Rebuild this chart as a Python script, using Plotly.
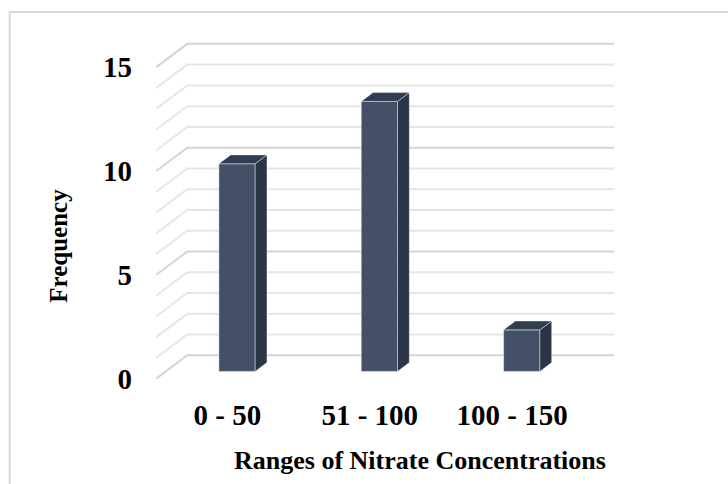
import plotly.graph_objects as go

# Frequency of samples per nitrate concentration range
categories = ["0 - 50", "51 - 100", "100 - 150"]
frequency = [10, 13, 2]
y_ticks = [0, 5, 10, 15]
y_max = 15

# Pseudo-3D geometry (in axis units): full floor depth shifts right/up
DEPTH_DX = 0.218
DEPTH_DY = 1.122
D_FRONT, D_BACK = 0.31, 0.69     # bar depth span as fraction of floor depth
BAR_W = 0.255

FRONT = "#435068"
SIDE = "#2B3546"
TOP = "#313D50"
GRID_MAJOR = "#D4D4D4"
GRID_MINOR = "#E6E6E6"
SERIF = "Liberation Serif"

W, H = 728, 484
X_RANGE = [-0.6, 2.8]
Y_RANGE = [-0.5, 16.5]
PX_X, PX_Y = 142.3, 20.76
ORIGIN_X, ORIGIN_Y = 156.0, 379.0   # pixel of (x=-0.5, y=0) on the front plane

left_px = ORIGIN_X + (X_RANGE[0] + 0.5) * PX_X
right_px = ORIGIN_X + (X_RANGE[1] + 0.5) * PX_X
top_px = ORIGIN_Y - Y_RANGE[1] * PX_Y
bottom_px = ORIGIN_Y - Y_RANGE[0] * PX_Y


def paper_x(px):
    return (px - left_px) / (right_px - left_px)


def paper_y(py):
    return (bottom_px - py) / (bottom_px - top_px)


fig = go.Figure()
shapes = []

# Left wall diagonals and back wall gridlines (drawn beneath all traces)
n_cat = len(categories)
x_left = -0.5
x_right = n_cat - 0.5
for v in range(0, y_max + 1):
    color = GRID_MAJOR if v % 5 == 0 else GRID_MINOR
    path = (f"M {x_left},{v} L {x_left + DEPTH_DX},{v + DEPTH_DY} "
            f"L {x_right + DEPTH_DX},{v + DEPTH_DY}")
    shapes.append(dict(type="path", xref="x", yref="y", path=path,
                       line=dict(color=color, width=2), layer="below"))

# Column faces
x_shift = D_FRONT * DEPTH_DX
base = D_FRONT * DEPTH_DY
dx = (D_BACK - D_FRONT) * DEPTH_DX
dy = (D_BACK - D_FRONT) * DEPTH_DY
edge = dict(color="rgba(255,255,255,0.4)", width=1)

for i, v in enumerate(frequency):
    xl = i + x_shift - BAR_W / 2
    xr = i + x_shift + BAR_W / 2
    y0 = base
    y1 = base + v
    # side face
    fig.add_trace(go.Scatter(
        x=[xr, xr, xr + dx, xr + dx, xr],
        y=[y0, y1, y1 + dy, y0 + dy, y0],
        mode="lines", fill="toself", fillcolor=SIDE, line=edge,
        hoverinfo="skip", showlegend=False,
    ))
    # top face
    fig.add_trace(go.Scatter(
        x=[xl, xr, xr + dx, xl + dx, xl],
        y=[y1, y1, y1 + dy, y1 + dy, y1],
        mode="lines", fill="toself", fillcolor=TOP, line=edge,
        hoverinfo="skip", showlegend=False,
    ))

# Front faces
fig.add_trace(go.Bar(
    x=[i + x_shift for i in range(n_cat)],
    y=frequency,
    base=[base] * n_cat,
    width=BAR_W,
    marker=dict(color=FRONT, line=dict(color="rgba(255,255,255,0.45)", width=1)),
    showlegend=False,
))

# Outer chart border
shapes.append(dict(type="rect", xref="paper", yref="paper",
                   x0=paper_x(9.5), y0=paper_y(H + 20), x1=paper_x(W + 20), y1=paper_y(12.5),
                   line=dict(color="#D9D9D9", width=2), fillcolor="rgba(0,0,0,0)",
                   layer="below"))

fig.update_layout(
    width=W, height=H,
    margin=dict(l=left_px, r=W - right_px, t=top_px, b=H - bottom_px, autoexpand=False),
    paper_bgcolor="white", plot_bgcolor="white",
    xaxis=dict(
        range=X_RANGE, showgrid=False, zeroline=False, showline=False,
        tickmode="array", tickvals=list(range(n_cat)), ticktext=categories,
        tickfont=dict(family=SERIF, size=29, color="black", weight="bold"),
        ticklabelstandoff=6,
    ),
    yaxis=dict(
        range=Y_RANGE, showgrid=False, zeroline=False, showline=False,
        tickmode="array", tickvals=y_ticks,
        tickfont=dict(family=SERIF, size=29, color="black", weight="bold"),
        ticklabelstandoff=9,
    ),
    annotations=[
        dict(text="Frequency", textangle=-90, showarrow=False,
             xref="paper", yref="paper", x=paper_x(58), y=paper_y(246),
             xanchor="center", yanchor="middle",
             font=dict(family=SERIF, size=25, color="black", weight="bold")),
        dict(text="Ranges of Nitrate Concentrations", showarrow=False,
             xref="paper", yref="paper", x=paper_x(420), y=paper_y(461),
             xanchor="center", yanchor="middle",
             font=dict(family=SERIF, size=26, color="black", weight="bold")),
    ],
    shapes=shapes,
)

fig.write_html("out.html")
